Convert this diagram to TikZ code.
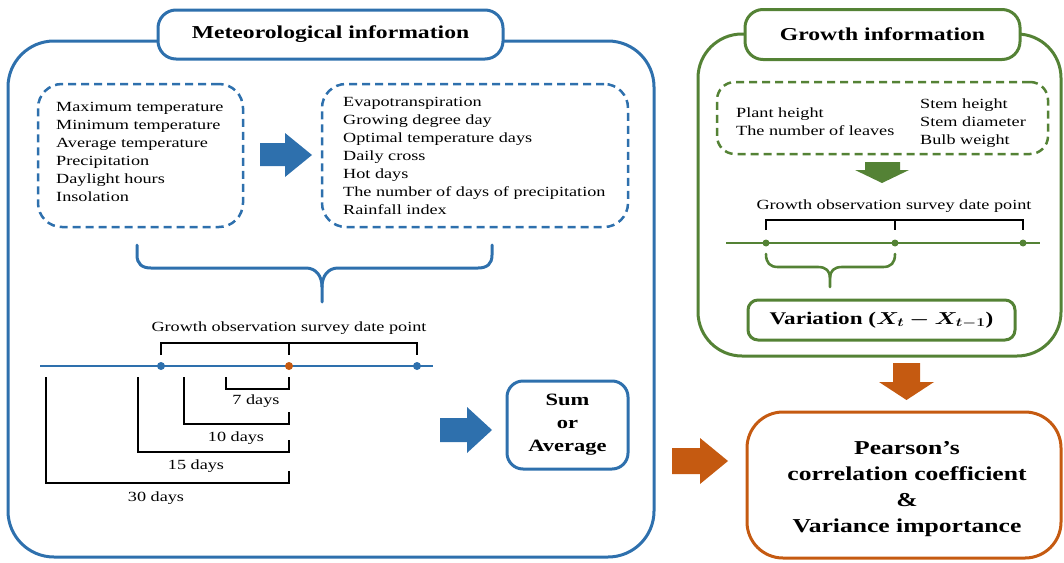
\documentclass[tikz,border=0pt]{standalone}
\usepackage{fontspec}
\setmainfont[FakeStretch=1.3]{Liberation Serif}
\usepackage{amsmath,bm}
\definecolor{mblue}{RGB}{46,112,173}
\definecolor{mgreen}{RGB}{84,130,53}
\definecolor{morange}{RGB}{197,90,17}
\begin{document}
\begin{tikzpicture}[x=1pt,y=-1pt,
  bigbox/.style={draw, line width=3pt, rounded corners=46pt, inner sep=0pt},
  titlebox/.style={draw, fill=white, line width=3pt, rounded corners=18pt, inner sep=0pt,
    font=\fontsize{18.2}{22}\selectfont\bfseries},
  dashbox/.style={draw, line width=2.5pt, dash pattern=on 8pt off 5pt, rounded corners=24pt, inner sep=0pt},
  body/.style={font=\fontsize{14}{18}\selectfont, align=left, inner sep=0pt},
  boldbox/.style={draw, line width=3pt, inner sep=0pt, align=center},
  brack/.style={draw=black, line width=1.4pt},
  tline/.style={line width=2.2pt},
  dot/.style={circle, fill, inner sep=0pt, minimum size=8pt},
  brace/.style={line width=3pt, line cap=round},
  blockar/.style={fill, draw=none}
]
\useasboundingbox (0,0) rectangle (1064,562);

% ---------- Meteorological information ----------
\node[bigbox, draw=mblue, minimum width=646pt, minimum height=516pt] (met) at (331,299) {};
\node[titlebox, draw=mblue, minimum width=345pt, minimum height=49pt] (mettitle) at (330.5,34.5) {Meteorological information};

\node[dashbox, draw=mblue, minimum width=205pt, minimum height=143pt] (raw) at (140.5,155.5) {};
\node[body, anchor=west] (rawtxt) at (56,152) {Maximum temperature\\Minimum temperature\\Average temperature\\Precipitation\\Daylight hours\\Insolation};

\node[dashbox, draw=mblue, minimum width=306pt, minimum height=143pt] (der) at (475,155.5) {};
\node[body, anchor=west] (dertxt) at (343,156) {Evapotranspiration\\Growing degree day\\Optimal temperature days\\Daily cross\\Hot days\\The number of days of precipitation\\Rainfall index};

\fill[mblue] (260,143) -- (285,143) -- (285,133) -- (312,155) -- (285,177) -- (285,166) -- (260,166) -- cycle;

% brace
\draw[brace, draw=mblue] (137,245) -- (137,255) .. controls (137,264) and (142,268) .. (151,268) -- (306,268)
  .. controls (316,268) and (322,276) .. (322,287) -- (322,302);
\draw[brace, draw=mblue] (492,245) -- (492,255) .. controls (492,264) and (487,268) .. (478,268) -- (338,268)
  .. controls (328,268) and (322,276) .. (322,287);

% timeline
\node[body] (lab1) at (289,328) {Growth observation survey date point};
\coordinate (tlA) at (40,366);
\coordinate (tlB) at (433,366);
\draw[tline, mblue] (tlA) -- (tlB);
\node[dot, fill=mblue] (b1) at (161,366) {};
\node[dot, fill=morange] (b2) at (289,366) {};
\node[dot, fill=mblue] (b3) at (417,366) {};
\draw[brack] (161,355) -- (161,343) -- (417,343) -- (417,355);
\draw[brack] (289,343) -- (289,355);

\draw[brack] (226,377) -- (226,389) -- (289,389) -- (289,377);
\draw[brack] (184,377) -- (184,424) -- (289,424) -- (289,412);
\draw[brack] (138,377) -- (138,452) -- (289,452) -- (289,440);
\draw[brack] (46,377) -- (46,483) -- (289,483) -- (289,471);
\node[body] (d7) at (256,401) {7 days};
\node[body] (d10) at (236,438) {10 days};
\node[body] (d15) at (196,466) {15 days};
\node[body] (d30) at (156,498) {30 days};

\fill[mblue] (440,418) -- (467,418) -- (467,407) -- (492,430) -- (467,453) -- (467,442) -- (440,442) -- cycle;
\node[boldbox, draw=mblue, rounded corners=16pt, minimum width=121pt, minimum height=88pt,
  font=\fontsize{17.3}{23}\selectfont\bfseries] (sum) at (567.5,425) {Sum\\or\\Average};

% ---------- Growth information ----------
\node[bigbox, draw=mgreen, rounded corners=44pt, minimum width=363pt, minimum height=322pt] (gro) at (879.5,195) {};
\node[titlebox, draw=mgreen, minimum width=275pt, minimum height=50pt] (grotitle) at (882.5,34.5) {Growth information};

\node[dashbox, draw=mgreen, rounded corners=18pt, minimum width=331pt, minimum height=72pt] (gvar) at (882.5,118) {};
\node[body, anchor=west] (gv1) at (736,122) {Plant height\\The number of leaves};
\node[body, anchor=west] (gv2) at (920,123) {Stem height\\Stem diameter\\Bulb weight};

\fill[mgreen] (865,162) -- (900,162) -- (900,170) -- (909,170) -- (882,183) -- (855,170) -- (865,170) -- cycle;

\node[body] (lab2) at (894,206) {Growth observation survey date point};
\coordinate (gtA) at (726,243);
\coordinate (gtB) at (1040,243);
\draw[tline, mgreen] (gtA) -- (gtB);
\node[dot, fill=mgreen, minimum size=7pt] (g1) at (766,243) {};
\node[dot, fill=mgreen, minimum size=7pt] (g2) at (895,243) {};
\node[dot, fill=mgreen, minimum size=7pt] (g3) at (1023,243) {};
\draw[brack] (766,230) -- (766,220) -- (1023,220) -- (1023,230);
\draw[brack] (895,220) -- (895,230);

\draw[brace, draw=mgreen, line width=2.6pt] (766,254) .. controls (766,263) and (770,267) .. (778,267) -- (818,267)
  .. controls (826,267) and (830,271) .. (830,278) -- (830,287);
\draw[brace, draw=mgreen, line width=2.6pt] (895,254) .. controls (895,263) and (891,267) .. (883,267) -- (842,267)
  .. controls (834,267) and (830,271) .. (830,278);

\node[boldbox, draw=mgreen, rounded corners=10pt, minimum width=267pt, minimum height=40pt,
  font=\fontsize{17.8}{22}\selectfont\bfseries] (vari) at (881.5,320)
  {Variation (\scalebox{1.3}[1]{$\boldsymbol{X_t - X_{t-1}}$})};

% ---------- Result ----------
\fill[morange] (893,363) -- (920,363) -- (920,382) -- (934,382) -- (906.5,400) -- (879,382) -- (893,382) -- cycle;
\fill[morange] (672,448) -- (700,448) -- (700,438) -- (728,461) -- (700,484) -- (700,474) -- (672,474) -- cycle;

\node[boldbox, draw=morange, rounded corners=36pt, minimum width=314pt, minimum height=146pt] (res) at (904,485) {};
\node[align=center, inner sep=0pt, font=\fontsize{19.7}{26}\selectfont\bfseries] (restxt) at (907,489)
  {Pearson’s\\correlation coefficient\\\&\\Variance importance};
\end{tikzpicture}
\end{document}
